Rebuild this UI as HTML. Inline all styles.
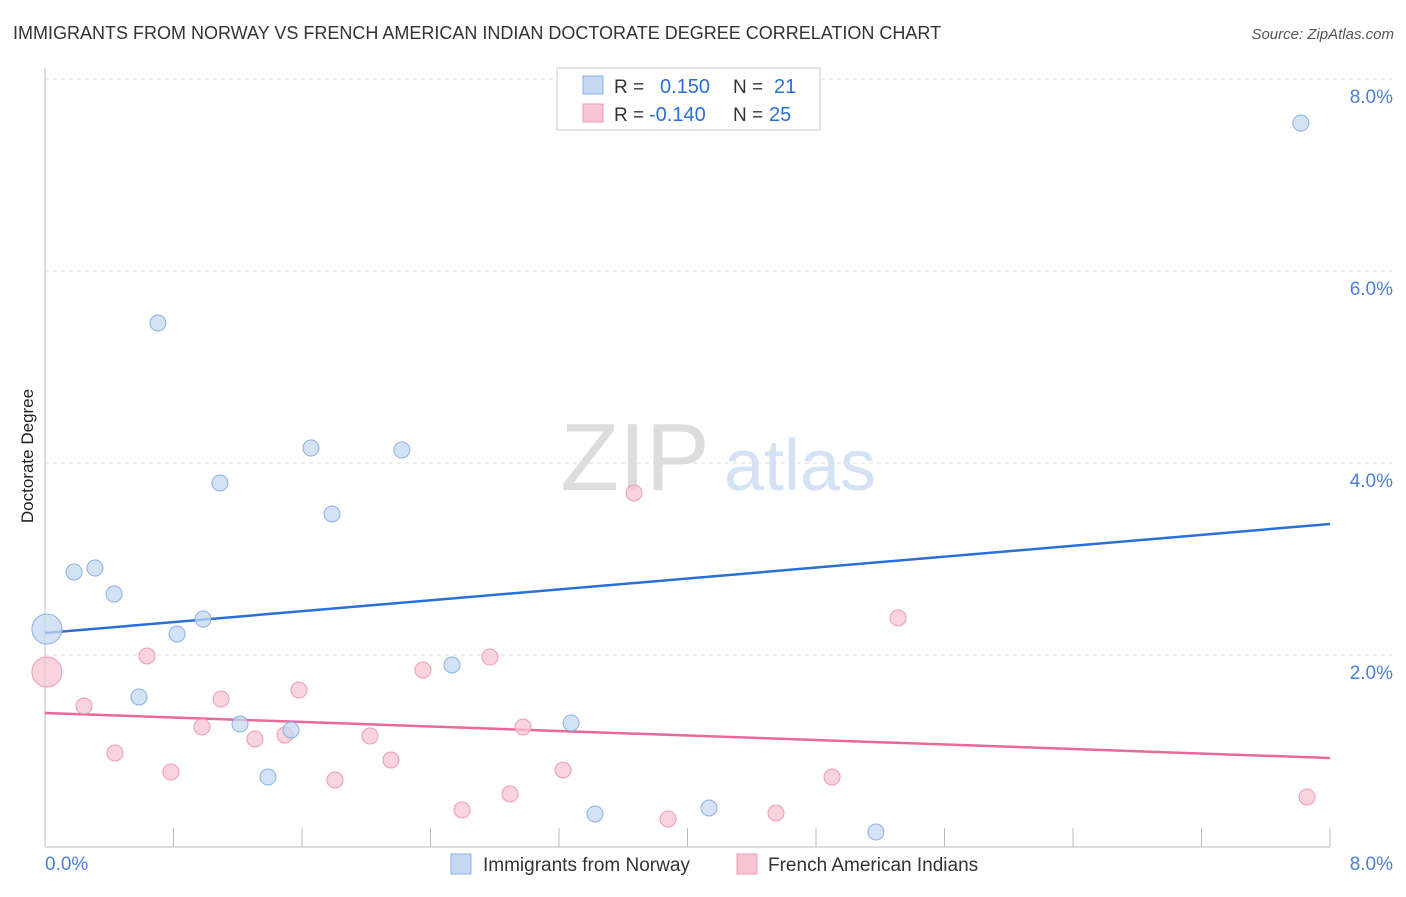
<!DOCTYPE html>
<html><head><meta charset="utf-8"><style>
body{margin:0;background:#fff;font-family:"Liberation Sans",sans-serif}
svg text{font-family:"Liberation Sans",sans-serif}
</style></head><body>
<svg id="chart" width="1406" height="892" xmlns="http://www.w3.org/2000/svg">
<text x="13" y="39" font-size="18" fill="#333">IMMIGRANTS FROM NORWAY VS FRENCH AMERICAN INDIAN DOCTORATE DEGREE CORRELATION CHART</text>
<text x="1394" y="39" font-size="15" fill="#555" font-style="italic" text-anchor="end">Source: ZipAtlas.com</text>
<text transform="translate(33,456) rotate(-90)" font-size="17" fill="#222" text-anchor="middle">Doctorate Degree</text>
<g>
<text x="635" y="490" font-size="96" fill="#ddd" text-anchor="middle" font-family="Liberation Serif,serif">ZIP</text>
<text x="800" y="490" font-size="72" fill="#d3e2f5" text-anchor="middle">atlas</text>
</g>
<g id="grid"></g><g id="axes"></g><g id="lines"></g><g id="points"></g>
<g>
<rect x="557" y="68" width="263" height="62" fill="#fff" stroke="#ccc"/>
<rect x="583" y="76" width="20" height="18" fill="#c5d8f3" stroke="#8ab0e6"/>
<rect x="583" y="104" width="20" height="18" fill="#f7c5d4" stroke="#f09ab5"/>
<text x="614" y="93" font-size="19" fill="#333">R =</text>
<text x="660" y="93" font-size="20" fill="#2a6fd8">0.150</text>
<text x="733" y="93" font-size="19" fill="#333">N =</text>
<text x="774" y="93" font-size="20" fill="#2a6fd8">21</text>
<text x="614" y="121" font-size="19" fill="#333">R =</text>
<text x="649" y="121" font-size="20" fill="#2a6fd8">-0.140</text>
<text x="733" y="121" font-size="19" fill="#333">N =</text>
<text x="769" y="121" font-size="20" fill="#2a6fd8">25</text>
</g>
<g>
<rect x="451" y="854" width="20" height="20" fill="#c5d8f3" stroke="#8ab0e6"/>
<text x="483" y="871" font-size="19" fill="#333">Immigrants from Norway</text>
<rect x="737" y="854" width="20" height="20" fill="#f7c5d4" stroke="#f09ab5"/>
<text x="768" y="871" font-size="19" fill="#333">French American Indians</text>
</g>
</svg>
<script>
const yTicks=[2,4,6,8];
const yTickLabels=["2.0%","4.0%","6.0%","8.0%"];
const xTickCount=10;
const blueX=[0.012,0.181,0.311,0.430,0.703,0.585,0.822,0.984,1.089,1.214,1.388,1.532,1.656,1.787,2.222,2.534,3.275,3.424,4.134,5.173,7.819];
const blueY=[2.271,2.865,2.906,2.635,5.458,1.563,2.219,2.375,3.792,1.281,0.729,1.219,4.156,3.469,4.135,1.896,1.292,0.344,0.406,0.156,7.542];
const pinkX=[0.012,0.243,0.436,0.635,0.784,0.977,1.096,1.307,1.494,1.581,1.805,2.023,2.154,2.353,2.596,2.770,2.895,2.976,3.225,3.667,3.879,4.551,4.900,5.311,7.857];
const pinkY=[1.823,1.469,0.979,1.990,0.781,1.250,1.542,1.125,1.167,1.635,0.698,1.156,0.906,1.844,0.385,1.979,0.552,1.250,0.802,3.688,0.292,0.354,0.729,2.385,0.521];
const blueTrend=[2.229,3.365];
const pinkTrend=[1.396,0.927];
const NS="http://www.w3.org/2000/svg";
const sx=v=>45+v/8*1285, sy=v=>847-v*96;
function mk(t,a,p){const e=document.createElementNS(NS,t);for(const k in a)e.setAttribute(k,a[k]);p.appendChild(e);return e;}
const grid=document.getElementById('grid'),axes=document.getElementById('axes');
yTicks.forEach((t,i)=>{
 const l=mk('line',{x1:45,x2:1392,y1:sy(t),y2:sy(t),stroke:'#ddd','stroke-dasharray':'4,4'},grid);
 
 
 const tx=mk('text',{x:1393,y:sy(t)+24,'font-size':19,fill:'#4a7fd8','text-anchor':'end'},axes);
 tx.textContent=yTickLabels[i];
 
 
});
let a=mk('line',{x1:45,x2:45,y1:68,y2:847,stroke:'#bbb'},axes);


a=mk('line',{x1:45,x2:1330,y1:847,y2:847,stroke:'#bbb'},axes);


for(let i=0;i<=xTickCount;i++){const x=sx(i*8/xTickCount);
 const t=mk('line',{x1:x,x2:x,y1:828,y2:847,stroke:'#bbb'},axes);
 
 }
let xl=mk('text',{x:45,y:870,'font-size':19,fill:'#4a7fd8'},axes);xl.textContent='0.0%';


xl=mk('text',{x:1393,y:870,'font-size':19,fill:'#4a7fd8','text-anchor':'end'},axes);xl.textContent='8.0%';


const pts=document.getElementById('points');
function series(X,Y,fill,stroke,name){X.forEach((x,i)=>{
 const c=mk('circle',{cx:sx(x),cy:sy(Y[i]),r:i===0?15:8,fill:fill,stroke:stroke,'fill-opacity':0.75},pts);
 
 });}
series(pinkX,pinkY,'#f7c5d4','#f09ab5','point-french-american-indian');
series(blueX,blueY,'#c5d8f3','#8ab0e6','point-norway');
const ln=document.getElementById('lines');
let L=mk('line',{x1:sx(0),x2:sx(8),y1:sy(blueTrend[0]),y2:sy(blueTrend[1]),stroke:'#2a6fd8','stroke-width':2.5},ln);


L=mk('line',{x1:sx(0),x2:sx(8),y1:sy(pinkTrend[0]),y2:sy(pinkTrend[1]),stroke:'#e8699a','stroke-width':2.5},ln);


</script>
</body></html>
